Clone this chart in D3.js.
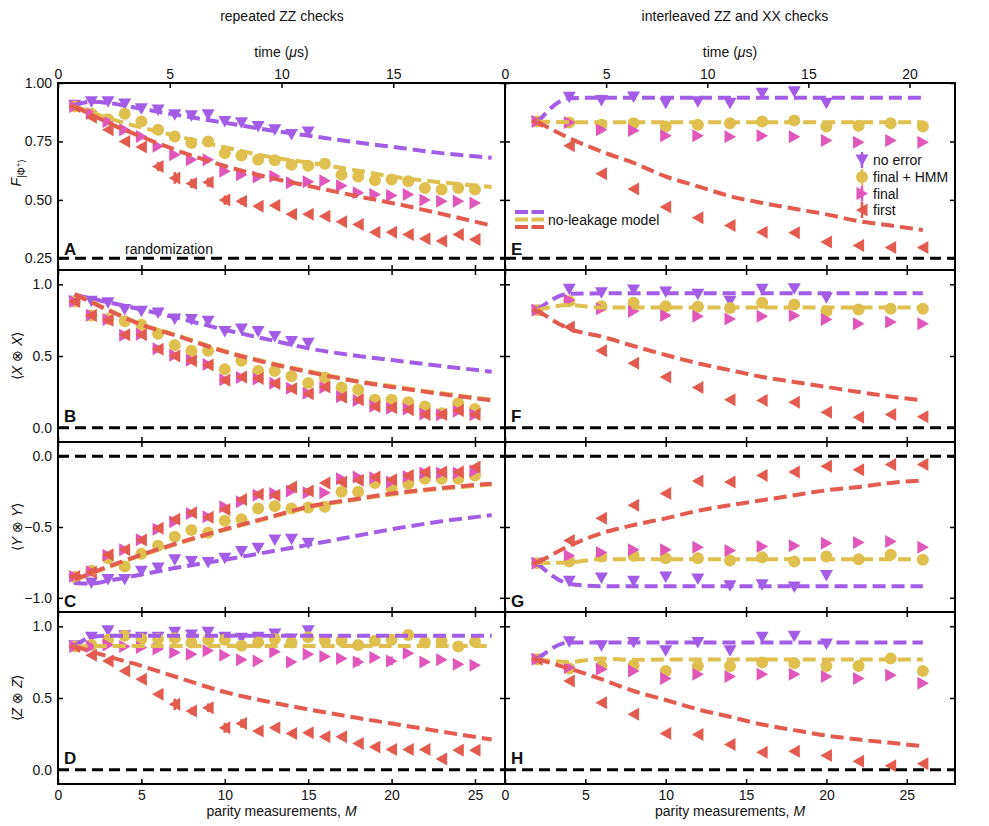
<!DOCTYPE html>
<html>
<head>
<meta charset="utf-8">
<script src="https://cdn.jsdelivr.net/npm/d3@7"></script>
<style>
  body { margin: 0; background: #fff; }
  text { font-family: "Liberation Sans", Arial, sans-serif; fill: #111; }
</style>
</head>
<body>
<script>
// parity-measurement index of the data points
const mLeft = [1, 2, 3, 4, 5, 6, 7, 8, 9, 10, 11, 12, 13, 14, 15, 16, 17, 18, 19, 20, 21, 22, 23, 24, 25];
const mRight = [2, 4, 6, 8, 10, 12, 14, 16, 18, 20, 22, 24, 26];
const mModelLeft = [1, 2, 3, 5, 7, 10, 13, 15, 18, 20, 23, 26];
const mModelRight = [2, 4, 6, 8, 10, 12, 14, 16, 18, 20, 22, 24, 26];

const seriesNames = ['no error', 'final + HMM', 'final', 'first'];

// ---- A : fidelity, repeated ZZ
const A_noError = [0.905, 0.92, 0.92, 0.91, 0.89, 0.885, 0.864, 0.86, 0.864, 0.835, 0.83, 0.814, 0.80, 0.78, 0.79];
const A_hmm = [0.90, 0.868, 0.845, 0.868, 0.835, 0.80, 0.771, 0.743, 0.75, 0.70, 0.69, 0.672, 0.67, 0.65, 0.646, 0.655, 0.608, 0.60, 0.584, 0.587, 0.58, 0.551, 0.544, 0.551, 0.544];
const A_final = [0.90, 0.87, 0.835, 0.80, 0.771, 0.729, 0.693, 0.672, 0.672, 0.622, 0.608, 0.598, 0.601, 0.573, 0.578, 0.582, 0.56, 0.53, 0.523, 0.519, 0.523, 0.499, 0.494, 0.494, 0.487];
const A_first = [0.90, 0.853, 0.80, 0.75, 0.726, 0.643, 0.594, 0.57, 0.575, 0.499, 0.494, 0.473, 0.476, 0.438, 0.438, 0.43, 0.406, 0.395, 0.362, 0.362, 0.352, 0.334, 0.324, 0.352, 0.331];
const A_firstErr = [0, 0, 0.01, 0.01, 0.01, 0.02, 0.025, 0.02, 0.02, 0.02, 0.015, 0.01, 0.01, 0.01, 0.01, 0.01, 0.01, 0.01, 0.01, 0.01, 0.01, 0.01, 0.01, 0.01, 0.01];
const A_modelNoError = [0.905, 0.92, 0.915, 0.89, 0.865, 0.83, 0.795, 0.775, 0.745, 0.727, 0.70, 0.68];
const A_modelHmm = [0.90, 0.875, 0.85, 0.81, 0.775, 0.725, 0.68, 0.66, 0.625, 0.60, 0.575, 0.555];
const A_modelFirst = [0.90, 0.865, 0.83, 0.77, 0.715, 0.645, 0.59, 0.56, 0.515, 0.487, 0.44, 0.39];

// ---- B : <XX>, repeated ZZ
const B_noError = [0.882, 0.882, 0.871, 0.824, 0.812, 0.80, 0.758, 0.754, 0.742, 0.671, 0.688, 0.671, 0.636, 0.601, 0.589];
const B_hmm = [0.88, 0.782, 0.758, 0.742, 0.718, 0.655, 0.577, 0.537, 0.537, 0.408, 0.467, 0.396, 0.396, 0.359, 0.312, 0.35, 0.28, 0.265, 0.195, 0.195, 0.178, 0.148, 0.101, 0.171, 0.131];
const B_final = [0.88, 0.785, 0.755, 0.645, 0.652, 0.55, 0.505, 0.47, 0.44, 0.335, 0.35, 0.34, 0.31, 0.275, 0.24, 0.28, 0.215, 0.19, 0.15, 0.135, 0.13, 0.095, 0.09, 0.115, 0.09];
const B_first = [0.88, 0.782, 0.75, 0.648, 0.648, 0.547, 0.50, 0.467, 0.437, 0.331, 0.354, 0.343, 0.308, 0.272, 0.237, 0.284, 0.213, 0.195, 0.148, 0.139, 0.125, 0.092, 0.092, 0.12, 0.092];
const B_modelNoError = [0.93, 0.90, 0.875, 0.824, 0.77, 0.683, 0.605, 0.554, 0.50, 0.472, 0.43, 0.39];
const B_modelHmm = [0.93, 0.88, 0.825, 0.722, 0.65, 0.535, 0.445, 0.394, 0.325, 0.29, 0.24, 0.195];
const B_modelFirst = [0.93, 0.875, 0.82, 0.718, 0.645, 0.53, 0.44, 0.389, 0.32, 0.284, 0.235, 0.19];

// ---- C : <YY>, repeated ZZ
const C_noError = [-0.87, -0.895, -0.87, -0.87, -0.813, -0.79, -0.731, -0.743, -0.75, -0.72, -0.673, -0.65, -0.591, -0.586, -0.614];
const C_hmm = [-0.853, -0.808, -0.72, -0.778, -0.689, -0.633, -0.568, -0.521, -0.54, -0.456, -0.446, -0.369, -0.353, -0.369, -0.362, -0.357, -0.252, -0.252, -0.189, -0.229, -0.194, -0.159, -0.159, -0.159, -0.136];
const C_final = [-0.85, -0.815, -0.70, -0.66, -0.59, -0.516, -0.463, -0.404, -0.428, -0.357, -0.322, -0.276, -0.264, -0.245, -0.259, -0.259, -0.159, -0.147, -0.152, -0.182, -0.143, -0.119, -0.119, -0.119, -0.105];
const C_first = [-0.85, -0.82, -0.696, -0.661, -0.591, -0.509, -0.446, -0.40, -0.432, -0.376, -0.306, -0.269, -0.276, -0.217, -0.245, -0.189, -0.182, -0.17, -0.147, -0.166, -0.136, -0.112, -0.112, -0.112, -0.077];
const C_modelNoError = [-0.895, -0.90, -0.88, -0.836, -0.79, -0.731, -0.668, -0.626, -0.56, -0.516, -0.46, -0.416];
const C_modelHmm = [-0.875, -0.83, -0.785, -0.70, -0.625, -0.52, -0.425, -0.362, -0.305, -0.27, -0.23, -0.2];
const C_modelFirst = [-0.87, -0.825, -0.78, -0.696, -0.62, -0.516, -0.42, -0.357, -0.30, -0.264, -0.225, -0.194];

// ---- D : <ZZ>, repeated ZZ
const D_noError = [0.864, 0.923, 0.97, 0.935, 0.923, 0.923, 0.958, 0.939, 0.958, 0.923, 0.916, 0.923, 0.946, 0.911, 0.97];
const D_hmm = [0.86, 0.869, 0.907, 0.935, 0.911, 0.911, 0.916, 0.888, 0.907, 0.907, 0.864, 0.888, 0.911, 0.888, 0.923, 0.90, 0.90, 0.869, 0.90, 0.907, 0.939, 0.888, 0.90, 0.86, 0.893];
const D_final = [0.86, 0.86, 0.869, 0.86, 0.853, 0.841, 0.818, 0.806, 0.829, 0.799, 0.766, 0.759, 0.822, 0.752, 0.806, 0.79, 0.776, 0.752, 0.783, 0.759, 0.813, 0.752, 0.766, 0.736, 0.729];
const D_finalErr = [0, 0, 0, 0, 0, 0, 0, 0, 0, 0, 0, 0, 0, 0, 0, 0, 0, 0.03, 0, 0.03, 0, 0, 0, 0, 0];
const D_first = [0.86, 0.799, 0.759, 0.689, 0.631, 0.526, 0.456, 0.409, 0.432, 0.292, 0.322, 0.269, 0.292, 0.252, 0.257, 0.229, 0.229, 0.182, 0.159, 0.14, 0.14, 0.14, 0.075, 0.136, 0.136];
const D_firstErr = [0, 0.01, 0.015, 0.02, 0.02, 0.02, 0.04, 0.025, 0.03, 0.035, 0.03, 0.02, 0.02, 0.02, 0.02, 0.02, 0.02, 0.02, 0.02, 0.02, 0.02, 0.02, 0.02, 0.02, 0.02];
const D_modelNoError = [0.86, 0.925, 0.935, 0.935, 0.935, 0.935, 0.935, 0.935, 0.935, 0.935, 0.935, 0.935];
const D_modelHmm = [0.86, 0.862, 0.862, 0.862, 0.862, 0.862, 0.862, 0.862, 0.862, 0.862, 0.862, 0.862];
const D_modelFirst = [0.86, 0.825, 0.79, 0.724, 0.65, 0.542, 0.465, 0.421, 0.36, 0.322, 0.265, 0.21];

// ---- E : fidelity, interleaved
const E_noError = [0.835, 0.939, 0.925, 0.94, 0.913, 0.92, 0.913, 0.956, 0.963, 0.913];
const E_hmm = [0.835, 0.831, 0.821, 0.828, 0.814, 0.821, 0.828, 0.835, 0.84, 0.814, 0.817, 0.828, 0.814];
const E_final = [0.835, 0.831, 0.80, 0.797, 0.774, 0.774, 0.77, 0.774, 0.77, 0.754, 0.746, 0.754, 0.746];
const E_first = [0.835, 0.732, 0.612, 0.547, 0.47, 0.424, 0.39, 0.362, 0.359, 0.32, 0.305, 0.296, 0.296];
const E_modelNoError = [0.83, 0.935, 0.937, 0.937, 0.937, 0.937, 0.937, 0.937, 0.937, 0.937, 0.937, 0.937, 0.937];
const E_modelHmm = [0.835, 0.832, 0.832, 0.832, 0.832, 0.832, 0.832, 0.832, 0.832, 0.832, 0.832, 0.832, 0.832];
const E_modelFirst = [0.835, 0.764, 0.707, 0.658, 0.60, 0.558, 0.516, 0.487, 0.462, 0.438, 0.409, 0.39, 0.371];

// ---- F : <XX>, interleaved
const F_noError = [0.819, 0.965, 0.941, 0.96, 0.946, 0.93, 0.882, 0.965, 0.97, 0.906];
const F_hmm = [0.82, 0.882, 0.847, 0.871, 0.847, 0.843, 0.835, 0.871, 0.859, 0.812, 0.824, 0.83, 0.83];
const F_final = [0.82, 0.89, 0.83, 0.812, 0.782, 0.777, 0.758, 0.777, 0.782, 0.754, 0.725, 0.737, 0.725];
const F_first = [0.82, 0.702, 0.537, 0.449, 0.354, 0.28, 0.195, 0.19, 0.178, 0.108, 0.073, 0.092, 0.077];
const F_modelNoError = [0.82, 0.935, 0.937, 0.937, 0.937, 0.937, 0.937, 0.937, 0.937, 0.937, 0.937, 0.937, 0.937];
const F_modelHmm = [0.82, 0.855, 0.838, 0.838, 0.838, 0.838, 0.838, 0.838, 0.838, 0.838, 0.838, 0.838, 0.838];
const F_modelFirst = [0.82, 0.69, 0.636, 0.57, 0.507, 0.449, 0.401, 0.354, 0.319, 0.284, 0.249, 0.218, 0.19];

// ---- G : <YY>, interleaved
const G_noError = [-0.755, -0.883, -0.86, -0.883, -0.853, -0.867, -0.914, -0.907, -0.923, -0.843];
const G_hmm = [-0.755, -0.743, -0.708, -0.703, -0.72, -0.72, -0.736, -0.713, -0.743, -0.708, -0.727, -0.696, -0.731];
const G_final = [-0.755, -0.703, -0.68, -0.661, -0.661, -0.643, -0.666, -0.638, -0.633, -0.614, -0.61, -0.603, -0.643];
const G_first = [-0.755, -0.596, -0.439, -0.346, -0.264, -0.175, -0.182, -0.136, -0.112, -0.072, -0.096, -0.058, -0.058];
const G_modelNoError = [-0.755, -0.90, -0.918, -0.918, -0.918, -0.918, -0.918, -0.918, -0.918, -0.918, -0.918, -0.918, -0.918];
const G_modelHmm = [-0.755, -0.75, -0.727, -0.727, -0.727, -0.727, -0.727, -0.727, -0.727, -0.727, -0.727, -0.727, -0.727];
const G_modelFirst = [-0.755, -0.633, -0.544, -0.486, -0.439, -0.386, -0.346, -0.311, -0.276, -0.241, -0.217, -0.189, -0.171];

// ---- H : <ZZ>, interleaved
const H_noError = [0.771, 0.893, 0.864, 0.888, 0.829, 0.888, 0.829, 0.923, 0.93, 0.876];
const H_hmm = [0.771, 0.706, 0.724, 0.729, 0.689, 0.724, 0.724, 0.748, 0.743, 0.724, 0.724, 0.776, 0.689];
const H_final = [0.771, 0.713, 0.701, 0.689, 0.636, 0.666, 0.65, 0.666, 0.666, 0.65, 0.636, 0.659, 0.603];
const H_first = [0.771, 0.619, 0.467, 0.386, 0.252, 0.245, 0.175, 0.121, 0.129, 0.098, 0.058, 0.028, 0.042];
const H_modelNoError = [0.771, 0.888, 0.888, 0.888, 0.888, 0.888, 0.888, 0.888, 0.888, 0.888, 0.888, 0.888, 0.888];
const H_modelHmm = [0.771, 0.752, 0.775, 0.766, 0.768, 0.768, 0.768, 0.768, 0.768, 0.768, 0.768, 0.768, 0.768];
const H_modelFirst = [0.771, 0.706, 0.631, 0.549, 0.486, 0.421, 0.369, 0.315, 0.276, 0.238, 0.21, 0.187, 0.164];

document.addEventListener('DOMContentLoaded', function () {

  const w = 989;
  const h = 826;

  const colors = ['#a35ce6', '#dfc04f', '#e156ba', '#e35a4f'];
  const shapes = ['down', 'circle', 'right', 'left'];

  const cols = [
    { left: 58, right: 505, mMax: 26.8, tMax: 20, m: mLeft, mModel: mModelLeft },
    { left: 505, right: 955, mMax: 28, tMax: 22.25, m: mRight, mModel: mModelRight }
  ];
  const rows = [
    { top: 83, bottom: 270, domain: [0.2, 1.0], ticks: [0.25, 0.5, 0.75, 1.0], fmt: d3.format('.2f'), ref: 0.25, letterY: 0.265 },
    { top: 270, bottom: 442, domain: [-0.1, 1.1], ticks: [0, 0.5, 1], fmt: d3.format('.1f'), ref: 0, letterY: 0.04 },
    { top: 442, bottom: 612, domain: [-1.1, 0.1], ticks: [-1, -0.5, 0], fmt: d3.format('.1f'), ref: 0, letterY: -1.065 },
    { top: 612, bottom: 784, domain: [-0.1, 1.1], ticks: [0, 0.5, 1], fmt: d3.format('.1f'), ref: 0, letterY: 0.04 }
  ];

  const panels = [
    { id: 'A', col: 0, row: 0, data: [A_noError, A_hmm, A_final, A_first], err: [null, null, null, A_firstErr], model: [A_modelNoError, A_modelHmm, A_modelFirst] },
    { id: 'B', col: 0, row: 1, data: [B_noError, B_hmm, B_final, B_first], err: [], model: [B_modelNoError, B_modelHmm, B_modelFirst] },
    { id: 'C', col: 0, row: 2, data: [C_noError, C_hmm, C_final, C_first], err: [], model: [C_modelNoError, C_modelHmm, C_modelFirst] },
    { id: 'D', col: 0, row: 3, data: [D_noError, D_hmm, D_final, D_first], err: [null, null, D_finalErr, D_firstErr], model: [D_modelNoError, D_modelHmm, D_modelFirst] },
    { id: 'E', col: 1, row: 0, data: [E_noError, E_hmm, E_final, E_first], err: [], model: [E_modelNoError, E_modelHmm, E_modelFirst] },
    { id: 'F', col: 1, row: 1, data: [F_noError, F_hmm, F_final, F_first], err: [], model: [F_modelNoError, F_modelHmm, F_modelFirst] },
    { id: 'G', col: 1, row: 2, data: [G_noError, G_hmm, G_final, G_first], err: [], model: [G_modelNoError, G_modelHmm, G_modelFirst] },
    { id: 'H', col: 1, row: 3, data: [H_noError, H_hmm, H_final, H_first], err: [], model: [H_modelNoError, H_modelHmm, H_modelFirst] }
  ];

  function markerPath(shape) {
    if (shape === 'down') return 'M-6.5,-5.5L6.5,-5.5L0,6Z';
    if (shape === 'right') return 'M-5.5,-6.5L-5.5,6.5L6,0Z';
    if (shape === 'left') return 'M5.5,-6.5L5.5,6.5L-6,0Z';
    return d3.symbol(d3.symbolCircle, Math.PI * 36)();
  }

  const svg = d3.select('body').
  append('svg').
  attr('width', w).
  attr('height', h);

  svg.append('rect').attr('width', w).attr('height', h).attr('fill', '#fff');

  panels.forEach(p => {
    const c = cols[p.col];
    const r = rows[p.row];
    const x = d3.scaleLinear().domain([0, c.mMax]).range([c.left, c.right]);
    const y = d3.scaleLinear().domain(r.domain).range([r.bottom, r.top]);
    const g = svg.append('g').attr('id', 'panel-' + p.id);

    // data markers (with error bars where they show)
    p.data.forEach((vals, s) => {
      const pts = vals.map((v, i) => ({ m: c.m[i], v: v, e: p.err[s] ? p.err[s][i] : 0 }));
      g.append('g').
      selectAll('line').
      data(pts.filter(d => d.e > 0)).
      enter().
      append('line').
      attr('x1', d => x(d.m)).
      attr('x2', d => x(d.m)).
      attr('y1', d => y(d.v - d.e)).
      attr('y2', d => y(d.v + d.e)).
      attr('stroke', colors[s]).
      attr('stroke-width', 2.5);

      g.append('g').
      selectAll('path').
      data(pts).
      enter().
      append('path').
      attr('d', markerPath(shapes[s])).
      attr('transform', d => `translate(${x(d.m)},${y(d.v)})`).
      attr('fill', colors[s]);
    });

    // no-leakage model curves
    const line = d3.line().
    x((d, i) => x(c.mModel[i])).
    y(d => y(d)).
    curve(d3.curveMonotoneX);
    const modelColors = [colors[0], colors[1], colors[3]];
    p.model.forEach((vals, s) => {
      g.append('path').
      attr('d', line(vals)).
      attr('fill', 'none').
      attr('stroke', modelColors[s]).
      attr('stroke-width', 4).
      attr('stroke-dasharray', '13,6');
    });

    // reference line (randomization / zero)
    g.append('line').
    attr('x1', c.left).
    attr('x2', c.right).
    attr('y1', y(r.ref)).
    attr('y2', y(r.ref)).
    attr('stroke', '#000').
    attr('stroke-width', 3).
    attr('stroke-dasharray', '11,6');

    // ticks
    const yLeft = d3.axisLeft(y).tickValues(r.ticks).tickSize(-5).tickPadding(6).
    tickFormat(p.col === 0 ? r.fmt : '');
    const yRight = d3.axisRight(y).tickValues(r.ticks).tickSize(-5).tickFormat('');
    g.append('g').attr('class', 'ax').attr('transform', `translate(${c.left},0)`).call(yLeft);
    g.append('g').attr('class', 'ax').attr('transform', `translate(${c.right},0)`).call(yRight);

    const mTicks = [0, 5, 10, 15, 20, 25];
    if (p.row !== 0) {
      g.append('g').attr('class', 'ax').attr('transform', `translate(0,${r.top})`).
      call(d3.axisBottom(x).tickValues(mTicks).tickSize(5).tickFormat(''));
    }
    if (p.row !== 3) {
      g.append('g').attr('class', 'ax').attr('transform', `translate(0,${r.bottom})`).
      call(d3.axisTop(x).tickValues(mTicks).tickSize(5).tickFormat(''));
    } else {
      g.append('g').attr('class', 'ax').attr('transform', `translate(0,${r.bottom})`).
      call(d3.axisBottom(x).tickValues(mTicks).tickSize(-5).tickPadding(6));
    }
    if (p.row === 0) {
      const t = d3.scaleLinear().domain([0, c.tMax]).range([c.left, c.right]);
      const tTicks = p.col === 0 ? [0, 5, 10, 15] : [0, 5, 10, 15, 20];
      g.append('g').attr('class', 'ax').attr('transform', `translate(0,${r.top})`).
      call(d3.axisTop(t).tickValues(tTicks).tickSize(-5).tickPadding(4));
    }

    // frame
    g.append('rect').
    attr('x', c.left).
    attr('y', r.top).
    attr('width', c.right - c.left).
    attr('height', r.bottom - r.top).
    attr('fill', 'none').
    attr('stroke', '#000').
    attr('stroke-width', 2);

    // panel letter
    g.append('text').
    attr('x', c.left + 6).
    attr('y', y(r.letterY)).
    attr('font-size', '17px').
    attr('font-weight', 'bold').
    text(p.id);
  });

  svg.selectAll('.ax .domain').remove();
  svg.selectAll('.ax line').attr('stroke', '#000').attr('stroke-width', 1.5);
  svg.selectAll('.ax text').attr('font-size', '14px').attr('fill', '#111').
  attr('font-family', '"Liberation Sans", Arial, sans-serif');

  // titles
  svg.append('text').attr('x', 282).attr('y', 21).attr('text-anchor', 'middle').attr('font-size', '14px').
  text('repeated ZZ checks');
  svg.append('text').attr('x', 735).attr('y', 21).attr('text-anchor', 'middle').attr('font-size', '14px').
  text('interleaved ZZ and XX checks');

  [281.5, 730].forEach(cx => {
    const tt = svg.append('text').attr('x', cx).attr('y', 57).attr('text-anchor', 'middle').attr('font-size', '14px');
    tt.append('tspan').text('time (');
    tt.append('tspan').attr('font-style', 'italic').text('\u03bc');
    tt.append('tspan').text('s)');

    const xl = svg.append('text').attr('x', cx).attr('y', 816).attr('text-anchor', 'middle').attr('font-size', '14px');
    xl.append('tspan').text('parity measurements, ');
    xl.append('tspan').attr('font-style', 'italic').text('M');
  });

  svg.append('text').attr('x', 125).attr('y', 254).attr('font-size', '14px').text('randomization');

  // y labels
  const fl = svg.append('text').
  attr('transform', `translate(21,${(rows[0].top + rows[0].bottom) / 2 - 4}) rotate(-90)`).
  attr('text-anchor', 'middle').
  attr('font-size', '14px');
  fl.append('tspan').attr('font-style', 'italic').text('F');
  fl.append('tspan').attr('font-size', '10px').attr('dy', 4).text('|\u03a6');
  fl.append('tspan').attr('font-size', '8px').attr('dy', -4).text('+');
  fl.append('tspan').attr('font-size', '10px').attr('dy', 4).text('\u27e9');

  const ops = ['X', 'Y', 'Z'];
  ops.forEach((o, i) => {
    const r = rows[i + 1];
    const tl = svg.append('text').
    attr('transform', `translate(22,${(r.top + r.bottom) / 2}) rotate(-90)`).
    attr('text-anchor', 'middle').
    attr('font-size', '14px');
    tl.append('tspan').text('\u27e8');
    tl.append('tspan').attr('font-style', 'italic').text(o);
    tl.append('tspan').text(' \u2297 ');
    tl.append('tspan').attr('font-style', 'italic').text(o);
    tl.append('tspan').text('\u27e9');
  });

  // legend: data series
  const legY = [160, 177, 193.5, 210];
  seriesNames.forEach((name, s) => {
    const lg = svg.append('g').attr('transform', `translate(862,${legY[s]})`);
    lg.append('line').attr('y1', -8).attr('y2', 8).attr('stroke', colors[s]).attr('stroke-width', 2.5);
    lg.append('path').attr('d', markerPath(shapes[s])).attr('fill', colors[s]);
    lg.append('text').attr('x', 11).attr('y', 5).attr('font-size', '14px').text(name);
  });

  // legend: model
  const mLegY = [212, 219.5, 227];
  [colors[0], colors[1], colors[3]].forEach((col, s) => {
    svg.append('line').
    attr('x1', 515).attr('x2', 544).
    attr('y1', mLegY[s]).attr('y2', mLegY[s]).
    attr('stroke', col).attr('stroke-width', 4).
    attr('stroke-dasharray', '13,3.5');
  });
  svg.append('text').attr('x', 548).attr('y', 225).attr('font-size', '14px').text('no-leakage model');

});
</script>
</body>
</html>
